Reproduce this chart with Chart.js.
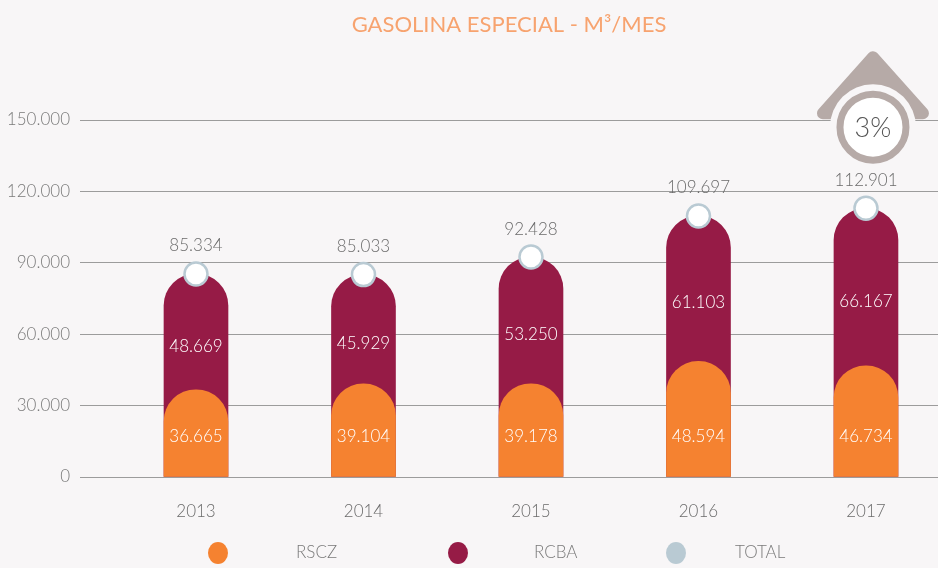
<!DOCTYPE html>
<html>
<head>
<meta charset="utf-8">
<script src="https://cdn.jsdelivr.net/npm/chart.js@4/dist/chart.umd.min.js"></script>
<style>
  html,body{margin:0;padding:0;background:#f8f6f7;}
  #wrap{width:938px;height:568px;}
</style>
</head>
<body>
<div id="wrap"><canvas id="c" width="938" height="568"></canvas></div>
<script>
const years = ['2013','2014','2015','2016','2017'];
const rscz  = [36665, 39104, 39178, 48594, 46734];
const rcba  = [48669, 45929, 53250, 61103, 66167];
const total = [85334, 85033, 92428, 109697, 112901];
const yTicks = [0, 30000, 60000, 90000, 120000, 150000];
const growthLabel = '3%';
const titleText = 'GASOLINA ESPECIAL - M\u00B3/MES';
const seriesNames = ['RSCZ', 'RCBA', 'TOTAL'];

const COLORS = { rscz:'#f58230', rcba:'#961b46', total:'#b9cad3', bg:'#f8f6f7', roof:'#b6aaa7' };
const fmt = v => v.toLocaleString('de-DE');
const FONT = 'Lato, "Open Sans", sans-serif';

const labelsPlugin = {
  id: 'labels',
  afterDatasetsDraw(chart) {
    const ctx = chart.ctx, xs = chart.scales.x, ys = chart.scales.y;
    ctx.save();
    ctx.textAlign = 'center';
    ctx.textBaseline = 'middle';
    ctx.font = '300 17px ' + FONT;
    years.forEach((y, i) => {
      const x = xs.getPixelForValue(i);
      ctx.fillStyle = '#ffffff';
      ctx.fillText(fmt(rscz[i]), x, ys.getPixelForValue(17200));
      ctx.fillText(fmt(rcba[i]), x, ys.getPixelForValue((rscz[i] + total[i]) / 2 - 6000));
      ctx.fillStyle = '#6b6b6b';
      ctx.fillText(fmt(total[i]), x, ys.getPixelForValue(total[i]) - 28);
    });
    ctx.restore();
  },
  afterDraw(chart) {
    const ctx = chart.ctx, xs = chart.scales.x, ys = chart.scales.y, ca = chart.chartArea;
    ctx.save();
    // title
    ctx.font = '22px ' + FONT;
    ctx.fillStyle = '#f7a36f';
    ctx.textAlign = 'center';
    ctx.textBaseline = 'middle';
    ctx.fillText(titleText, (ca.left + ca.right) / 2, 25);
    // growth badge over last year
    const last = years.length - 1;
    const cx = xs.getPixelForValue(last) + 7, cy = ys.getPixelForValue(147000);
    ctx.fillStyle = COLORS.roof;
    ctx.strokeStyle = COLORS.roof;
    ctx.lineWidth = 12;
    ctx.lineJoin = 'round';
    ctx.beginPath();
    ctx.moveTo(cx, cy - 70);
    ctx.lineTo(cx + 50, cy - 14);
    ctx.lineTo(cx - 50, cy - 14);
    ctx.closePath();
    ctx.fill();
    ctx.stroke();
    ctx.fillStyle = COLORS.bg;
    ctx.beginPath(); ctx.arc(cx, cy, 43, 0, Math.PI * 2); ctx.fill();
    ctx.fillStyle = '#ffffff';
    ctx.beginPath(); ctx.arc(cx, cy, 33, 0, Math.PI * 2); ctx.fill();
    ctx.lineWidth = 7;
    ctx.beginPath(); ctx.arc(cx, cy, 33, 0, Math.PI * 2); ctx.stroke();
    ctx.fillStyle = '#555555';
    ctx.font = '300 27px ' + FONT;
    ctx.fillText(growthLabel, cx, cy + 1);
    // legend
    const items = [[218, 296, COLORS.rscz], [458, 534, COLORS.rcba], [676, 735, COLORS.total]];
    ctx.font = '300 17px ' + FONT;
    ctx.textAlign = 'left';
    items.forEach((it, k) => {
      ctx.fillStyle = it[2];
      ctx.beginPath(); ctx.ellipse(it[0], 553, 10, 11, 0, 0, Math.PI * 2); ctx.fill();
      ctx.fillStyle = '#7a7a7a';
      ctx.fillText(seriesNames[k], it[1], 553);
    });
    ctx.restore();
  }
};

const pts = arr => arr.map((v, i) => ({ x: i, y: v }));
const topRound = { topLeft: 100, topRight: 100, bottomLeft: 0, bottomRight: 0 };

new Chart(document.getElementById('c'), {
  data: {
    datasets: [
      { type: 'line', label: 'TOTAL', data: pts(total), showLine: false, order: 0,
        pointRadius: 11.5, pointBorderWidth: 2.5, pointBackgroundColor: '#ffffff',
        pointBorderColor: COLORS.total },
      { type: 'bar', label: 'RSCZ', data: pts(rscz), backgroundColor: COLORS.rscz, order: 1,
        barThickness: 64, grouped: false, borderRadius: topRound, borderSkipped: false },
      { type: 'bar', label: 'RCBA', data: pts(total), backgroundColor: COLORS.rcba, order: 2,
        barThickness: 64, grouped: false, borderRadius: topRound, borderSkipped: false }
    ]
  },
  options: {
    responsive: false,
    animation: false,
    devicePixelRatio: 1,
    layout: { autoPadding: false, padding: { top: 120, right: 0, bottom: 0, left: 0 } },
    plugins: { legend: { display: false }, title: { display: false }, tooltip: { enabled: false } },
    scales: {
      x: {
        type: 'linear', min: -0.6925, max: 4.43, offset: false,
        grid: { display: false, drawTicks: false }, border: { display: false },
        afterBuildTicks: s => { s.ticks = years.map((_, i) => ({ value: i })); },
        afterFit: s => { s.height = 91; s.paddingLeft = 0; s.paddingRight = 0; },
        ticks: { padding: 24, color: '#6b6b6b', font: { family: FONT, size: 17, weight: '300' },
                 callback: v => years[v] ?? '' }
      },
      y: {
        min: 0, max: 150000,
        afterBuildTicks: s => { s.ticks = yTicks.map(v => ({ value: v })); },
        afterFit: s => { s.width = 80; },
        grid: { color: '#9c9c9c', lineWidth: 1, drawTicks: false },
        border: { display: false },
        ticks: { padding: 10, color: '#7a7a7a', font: { family: FONT, size: 17, weight: '300' },
                 callback: v => fmt(v) }
      }
    }
  },
  plugins: [labelsPlugin]
});
</script>
</body>
</html>
